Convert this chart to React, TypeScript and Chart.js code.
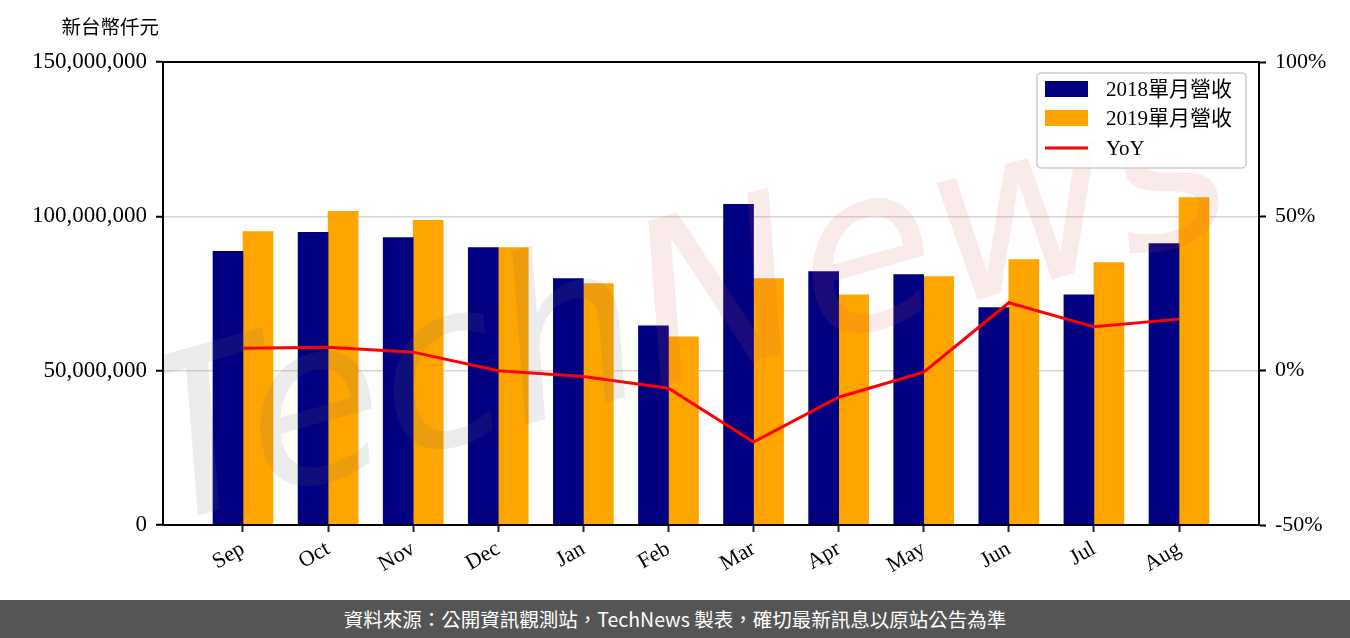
import React, { useEffect, useRef } from 'react';
import { Chart, registerables } from 'chart.js';

Chart.register(...registerables);

const months = ['Sep', 'Oct', 'Nov', 'Dec', 'Jan', 'Feb', 'Mar', 'Apr', 'May', 'Jun', 'Jul', 'Aug'];
const rev2018 = [88700000, 94800000, 93100000, 89900000, 79800000, 64500000, 103900000, 82100000, 81100000, 70400000, 74600000, 91200000];
const rev2019 = [95100000, 101600000, 98700000, 89900000, 78200000, 61000000, 79800000, 74600000, 80500000, 86000000, 85000000, 106100000];
const yoy = [7.3, 7.6, 6.0, 0.0, -1.9, -5.7, -23.1, -8.6, -0.5, 22.0, 14.2, 16.7];
const leftTicks = [0, 50000000, 100000000, 150000000];
const rightTicks = [-50, 0, 50, 100];
const seriesNames = ['2018單月營收', '2019單月營收', 'YoY'];
const unitLabel = '新台幣仟元';
const footerText = '資料來源：公開資訊觀測站，TechNews 製表，確切最新訊息以原站公告為準';

const SERIF = "'Liberation Serif', 'Noto Sans CJK TC', serif";

const framePlugin = {
  id: 'frameAndExtras',
  afterDatasetsDraw(chart: any) {
    const { ctx, chartArea } = chart;
    // watermark
    ctx.save();
    ctx.beginPath();
    ctx.rect(chartArea.left, chartArea.top, chartArea.right - chartArea.left, chartArea.bottom - chartArea.top);
    ctx.clip();
    ctx.translate(685, 320);
    ctx.rotate(-0.27);
    ctx.font = "italic 225px 'DejaVu Sans'";
    ctx.textBaseline = 'middle';
    const w1 = ctx.measureText('Tech').width;
    const w2 = ctx.measureText('News').width;
    const start = -(w1 + w2) / 2;
    ctx.fillStyle = 'rgba(110,110,110,0.13)';
    ctx.fillText('Tech', start, 0);
    ctx.fillStyle = 'rgba(215,80,80,0.12)';
    ctx.fillText('News', start + w1, 0);
    ctx.restore();
  },
  afterDraw(chart: any) {
    const { ctx, chartArea } = chart;
    ctx.save();
    // frame
    ctx.strokeStyle = '#000';
    ctx.lineWidth = 2;
    ctx.strokeRect(chartArea.left, chartArea.top, chartArea.right - chartArea.left, chartArea.bottom - chartArea.top);
    // unit label
    ctx.fillStyle = '#000';
    ctx.font = "19.5px 'Noto Sans CJK TC'";
    ctx.textAlign = 'right';
    ctx.textBaseline = 'middle';
    ctx.fillText(unitLabel, chartArea.left - 4, 27);
    // legend
    const lx = chartArea.right - 222;
    const ly = chartArea.top + 11;
    const lw = 209;
    const lh = 95;
    ctx.beginPath();
    ctx.roundRect(lx, ly, lw, lh, 4);
    ctx.fillStyle = 'rgba(255,255,255,0.85)';
    ctx.fill();
    ctx.strokeStyle = '#cccccc';
    ctx.lineWidth = 1.5;
    ctx.stroke();
    const ds = chart.data.datasets;
    const rows = [ly + 16, ly + 45, ly + 75];
    ds.forEach((d: any, i: number) => {
      const cy = rows[i];
      if (d.type === 'line') {
        ctx.strokeStyle = d.borderColor;
        ctx.lineWidth = 3;
        ctx.beginPath();
        ctx.moveTo(lx + 8, cy);
        ctx.lineTo(lx + 51, cy);
        ctx.stroke();
      } else {
        ctx.fillStyle = d.backgroundColor;
        ctx.fillRect(lx + 8, cy - 8, 43, 16);
      }
      ctx.fillStyle = '#000';
      ctx.font = `21px ${SERIF}`;
      ctx.textAlign = 'left';
      ctx.textBaseline = 'middle';
      ctx.fillText(d.label, lx + 69, cy + 1);
    });
    ctx.restore();
  },
};

export default function App() {
  const ref = useRef<HTMLCanvasElement>(null);

  useEffect(() => {
    document.body.style.margin = '0';
    const canvas = ref.current!;
    const chart = new Chart(canvas, {
      type: 'bar',
      data: {
        datasets: [
          {
            type: 'bar',
            label: seriesNames[0],
            data: rev2018.map((v, i) => ({ x: i, y: v })),
            backgroundColor: '#000080',
            barThickness: 30,
            yAxisID: 'y',
            order: 1,
          },
          {
            type: 'bar',
            label: seriesNames[1],
            data: rev2019.map((v, i) => ({ x: i, y: v })),
            backgroundColor: '#FFA500',
            barThickness: 30,
            yAxisID: 'y',
            order: 1,
          },
          {
            type: 'line',
            label: seriesNames[2],
            data: yoy.map((v, i) => ({ x: i, y: v })),
            borderColor: '#FF0000',
            backgroundColor: '#FF0000',
            borderWidth: 3,
            pointRadius: 0,
            tension: 0,
            yAxisID: 'y1',
            order: 0,
          } as any,
        ],
      },
      options: {
        animation: false,
        responsive: false,
        maintainAspectRatio: false,
        layout: { padding: { top: 62, left: 0, right: 0, bottom: 0 } },
        plugins: {
          legend: { display: false },
          tooltip: { enabled: false },
          title: { display: false },
        },
        scales: {
          x: {
            type: 'linear',
            offset: false,
            min: -0.94,
            max: 11.94,
            afterBuildTicks: (scale: any) => {
              scale.ticks = months.map((_, i) => ({ value: i }));
            },
            afterFit: (scale: any) => {
              scale.height = 75;
            },
            ticks: {
              callback: (v: any) => months[v as number] ?? '',
              minRotation: 30,
              maxRotation: 30,
              color: '#000',
              font: { family: SERIF, size: 22 },
              padding: 4,
            },
            grid: {
              offset: false,
              drawOnChartArea: false,
              drawTicks: true,
              tickLength: 7,
              tickColor: '#222',
              tickWidth: 2,
            },
            border: { color: '#000', width: 2 },
          },
          y: {
            position: 'left',
            min: 0,
            max: 150000000,
            afterBuildTicks: (scale: any) => {
              scale.ticks = leftTicks.map((v) => ({ value: v }));
            },
            afterFit: (scale: any) => {
              scale.width = 163;
            },
            ticks: {
              callback: (v: any) => Number(v).toLocaleString('en-US'),
              color: '#000',
              font: { family: SERIF, size: 23 },
              padding: 9,
            },
            grid: {
              color: '#d6d6d6',
              lineWidth: 1.5,
              tickLength: 7,
              tickColor: '#000',
              tickWidth: 2,
            },
            border: { color: '#000', width: 2 },
          },
          y1: {
            position: 'right',
            min: -50,
            max: 100,
            afterBuildTicks: (scale: any) => {
              scale.ticks = rightTicks.map((v) => ({ value: v }));
            },
            afterFit: (scale: any) => {
              scale.width = 91;
            },
            ticks: {
              callback: (v: any) => `${v}%`,
              color: '#000',
              font: { family: SERIF, size: 22 },
              padding: 9,
            },
            grid: {
              drawOnChartArea: false,
              tickLength: 7,
              tickColor: '#000',
              tickWidth: 2,
            },
            border: { color: '#000', width: 2 },
          },
        },
      },
      plugins: [framePlugin],
    });
    return () => chart.destroy();
  }, []);

  return (
    <div style={{ position: 'relative', width: 1350, height: 638, background: '#fff' }}>
      <canvas ref={ref} width={1350} height={600} style={{ display: 'block', width: 1350, height: 600 }} />
      <div
        style={{
          position: 'absolute',
          left: 0,
          top: 600,
          width: 1350,
          height: 38,
          background: '#555555',
          color: '#fff',
          fontFamily: "'Noto Sans CJK TC', 'Noto Sans', sans-serif",
          fontSize: 19.5,
          lineHeight: '38px',
          textAlign: 'center',
        }}
      >
        {footerText}
      </div>
    </div>
  );
}
